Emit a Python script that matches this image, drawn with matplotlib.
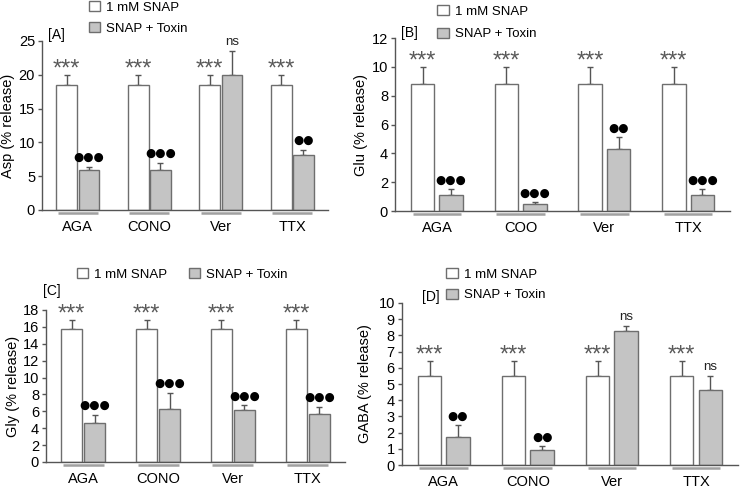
import numpy as np
import matplotlib.pyplot as plt
from matplotlib import transforms as mtransforms

plt.rcParams['font.family'] = ['Liberation Sans', 'DejaVu Sans']

# Panel A - Asp
asp_groups = ["AGA", "CONO", "Ver", "TTX"]
asp_snap = [18.5, 18.5, 18.5, 18.5]
asp_snap_err = [1.5, 1.5, 1.5, 1.5]
asp_toxin = [5.9, 5.9, 19.9, 8.1]
asp_toxin_err = [0.5, 1.1, 3.6, 0.8]
asp_snap_marks = ["***", "***", "***", "***"]
asp_toxin_marks = ["●●●", "●●●", "ns", "●●"]

# Panel B - Glu
glu_groups = ["AGA", "COO", "Ver", "TTX"]
glu_snap = [8.8, 8.8, 8.8, 8.8]
glu_snap_err = [1.2, 1.2, 1.2, 1.2]
glu_toxin = [1.1, 0.5, 4.3, 1.1]
glu_toxin_err = [0.4, 0.1, 0.8, 0.4]
glu_snap_marks = ["***", "***", "***", "***"]
glu_toxin_marks = ["●●●", "●●●", "●●", "●●●"]

# Panel C - Gly
gly_groups = ["AGA", "CONO", "Ver", "TTX"]
gly_snap = [15.7, 15.7, 15.7, 15.7]
gly_snap_err = [1.1, 1.1, 1.1, 1.1]
gly_toxin = [4.6, 6.3, 6.1, 5.7]
gly_toxin_err = [1.0, 1.9, 0.6, 0.8]
gly_snap_marks = ["***", "***", "***", "***"]
gly_toxin_marks = ["●●●", "●●●", "●●●", "●●●"]

# Panel D - GABA
gaba_groups = ["AGA", "CONO", "Ver", "TTX"]
gaba_snap = [5.5, 5.5, 5.5, 5.5]
gaba_snap_err = [0.9, 0.9, 0.9, 0.9]
gaba_toxin = [1.7, 0.9, 8.3, 4.6]
gaba_toxin_err = [0.75, 0.25, 0.3, 0.9]
gaba_snap_marks = ["***", "***", "***", "***"]
gaba_toxin_marks = ["●●", "●●", "ns", "ns"]

EDGE = "#6e6e6e"
GRAY = "#c4c4c4"
AX = "#555555"

fig = plt.figure(figsize=(7.44, 4.88), dpi=100)


def mark(ax, x, y, s):
    if s == "***":
        ax.annotate(s, (x, y), xytext=(0, -4), textcoords="offset points",
                    ha="center", va="bottom", fontsize=17, color="#5a5a5a")
    elif s == "ns":
        ax.annotate(s, (x, y), xytext=(0, 2), textcoords="offset points",
                    ha="center", va="bottom", fontsize=9.5, color="#222222")
    else:
        ax.annotate(s, (x, y), xytext=(0, 2), textcoords="offset points",
                    ha="center", va="bottom", fontsize=8.5, color="black",
                    family=["DejaVu Sans"])


def panel(rect, groups, snap, snap_err, toxin, toxin_err, snap_marks,
          toxin_marks, ymax, ystep, ylabel, off, width, labx):
    ax = fig.add_axes(rect)
    x = np.arange(len(groups))
    b1 = ax.bar(x - off, snap, width, color="white", edgecolor=EDGE,
                linewidth=1, label="1 mM SNAP", zorder=2)
    b2 = ax.bar(x + off, toxin, width, color=GRAY, edgecolor=EDGE,
                linewidth=1, label="SNAP + Toxin", zorder=2)
    ax.errorbar(x - off, snap, yerr=[np.zeros(len(x)), snap_err], fmt="none",
                ecolor=AX, elinewidth=1, capsize=2.5, zorder=1)
    ax.errorbar(x + off, toxin, yerr=[np.zeros(len(x)), toxin_err], fmt="none",
                ecolor=AX, elinewidth=1, capsize=2.5, zorder=1)
    for i in range(len(x)):
        mark(ax, x[i] - off, snap[i] + snap_err[i], snap_marks[i])
        mark(ax, x[i] + off, toxin[i] + toxin_err[i], toxin_marks[i])
    ax.set_xlim(-0.5, len(groups) - 0.5)
    ax.set_ylim(0, ymax)
    ax.set_yticks(np.arange(0, ymax + 0.01, ystep))
    ax.set_xticks(x)
    ax.set_xticklabels(groups, fontsize=10.5)
    ax.tick_params(axis="x", length=0, pad=7)
    ax.tick_params(axis="y", length=3, width=1, color=AX, labelsize=10.5, pad=2)
    for s in ["top", "right"]:
        ax.spines[s].set_visible(False)
    for s in ["left", "bottom"]:
        ax.spines[s].set_color(AX)
        ax.spines[s].set_linewidth(1)
    ax.set_ylabel(ylabel, fontsize=10.5)
    ax.yaxis.set_label_coords(labx, 0.5)
    # gray underline below each group
    trans = mtransforms.blended_transform_factory(ax.transData, ax.transAxes)
    trans = mtransforms.offset_copy(trans, fig=fig, y=-3, units="dots")
    for xi in x:
        ax.plot([xi - off - width / 2 + 0.02, xi + off + width / 2 - 0.02],
                [0, 0], transform=trans, color="#a0a0a0", lw=1.8,
                clip_on=False, solid_capstyle="butt")
    return ax, b1, b2


axA, a1, a2 = panel([0.0565, 0.5697, 0.3845, 0.3465], asp_groups, asp_snap,
                    asp_snap_err, asp_toxin, asp_toxin_err, asp_snap_marks,
                    asp_toxin_marks, 25, 5, "Asp (% release)", 0.155, 0.29, -0.094)
axB, g1, g2 = panel([0.531, 0.5676, 0.450, 0.3545], glu_groups, glu_snap,
                    glu_snap_err, glu_toxin, glu_toxin_err, glu_snap_marks,
                    glu_toxin_marks, 12, 2, "Glu (% release)", 0.17, 0.28, -0.08)
axC, c1, c2 = panel([0.0618, 0.0533, 0.402, 0.3115], gly_groups, gly_snap,
                    gly_snap_err, gly_toxin, gly_toxin_err, gly_snap_marks,
                    gly_toxin_marks, 18, 2, "Gly (% release)", 0.155, 0.28, -0.087)
axD, d1, d2 = panel([0.540, 0.0471, 0.452, 0.332], gaba_groups, gaba_snap,
                    gaba_snap_err, gaba_toxin, gaba_toxin_err, gaba_snap_marks,
                    gaba_toxin_marks, 10, 1, "GABA (% release)", 0.17, 0.28, -0.089)

leg_kw = dict(frameon=False, fontsize=9.5, handlelength=0.85, handleheight=0.85,
              handletextpad=0.5, borderpad=0, borderaxespad=0,
              loc="upper left", bbox_transform=fig.transFigure)
axA.legend(handles=[a1, a2], bbox_to_anchor=(0.119, 0.998), labelspacing=0.6,
           **leg_kw)
axB.legend(handles=[g1, g2], bbox_to_anchor=(0.588, 0.990), labelspacing=0.75,
           **leg_kw)
axC.legend(handles=[c1, c2], bbox_to_anchor=(0.103, 0.451), ncol=2,
           columnspacing=1.6, **leg_kw)
axD.legend(handles=[d1, d2], bbox_to_anchor=(0.600, 0.451), labelspacing=0.6,
           **leg_kw)

fig.text(48 / 744, 1 - 35 / 488, "[A]", fontsize=10, va="center")
fig.text(401 / 744, 1 - 33 / 488, "[B]", fontsize=10, va="center")
fig.text(43 / 744, 1 - 291 / 488, "[C]", fontsize=10, va="center")
fig.text(422 / 744, 1 - 297 / 488, "[D]", fontsize=10, va="center")

fig.savefig("out.png", dpi=100)
